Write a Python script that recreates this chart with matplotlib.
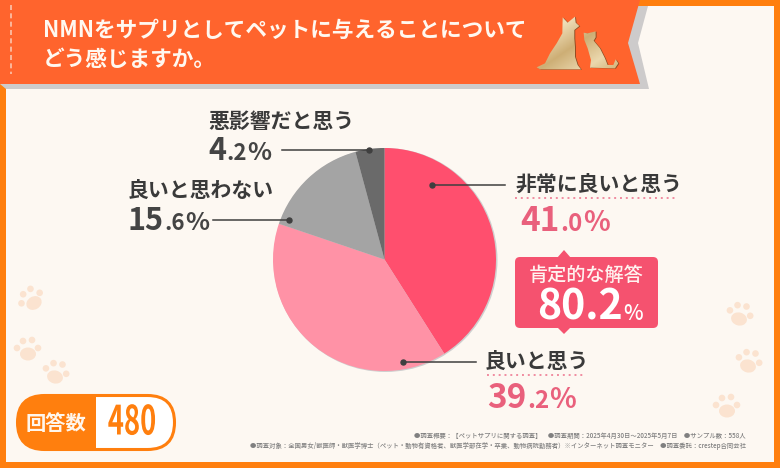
#!/usr/bin/env python3
"""NMN survey pie chart: pet owners' view of NMN supplements."""
import matplotlib
matplotlib.use("Agg")
import matplotlib.pyplot as plt
import numpy as np
from matplotlib.colors import LinearSegmentedColormap
from matplotlib.patches import Circle, Ellipse, FancyBboxPatch, Polygon, Rectangle
from matplotlib.patheffects import AbstractPathEffect
from matplotlib.transforms import Affine2D

plt.rcParams['font.family'] = ['Noto Sans CJK JP', 'DejaVu Sans']

W, H = 780, 468

# Data
labels = ["非常に良いと思う", "良いと思う", "良いと思わない", "悪影響だと思う"]
values = [41.0, 39.2, 15.6, 4.2]
slice_colors = ['#FF4F6E', '#FF92A6', '#A4A4A4', '#6A6A6A']

title_lines = ["NMNをサプリとしてペットに与えることについて", "どう感じますか。"]
positive_label = "肯定的な解答"
positive_value = 80.2
answer_label = "回答数"
answer_count = "480"
notes = [
    "●調査概要：【ペットサプリに関する調査】　●調査期間：2025年4月30日～2025年5月7日　●サンプル数：558人",
    "●調査対象：全国男女/獣医師・獣医学博士（ペット・動物有資格者、獣医学部在学・卒業、動物病院勤務者）※インターネット調査モニター　●調査委託：crestep合同会社",
]

ORANGE = '#FF7F0E'
HEADER = '#FF642D'
CREAM = '#FDF8F2'
PINK = '#F5526F'
PINK_TEXT = '#E9607C'
DARK = '#3A3A3A'
PAW = '#FBE3D0'

fig = plt.figure(figsize=(W / 100, H / 100), dpi=100, facecolor=CREAM)
ax = fig.add_axes([0, 0, 1, 1])


class Squeeze(AbstractPathEffect):
    """Condense text horizontally around a pixel x position."""

    def __init__(self, cx, factor):
        super().__init__()
        self.cx = cx
        self.factor = factor

    def draw_path(self, renderer, gc, tpath, affine, rgbFace=None):
        squeeze = Affine2D().translate(-self.cx, 0).scale(self.factor, 1).translate(self.cx, 0)
        renderer.draw_path(gc, tpath, affine + squeeze, rgbFace)


def flip(points):
    """Image pixels (y down) to axes coordinates (y up)."""
    return [(x, H - y) for x, y in points]


def txt(x, y, s, size, color=DARK, ha='left', weight='bold', **kw):
    return ax.text(x, H - y, s, fontsize=size, color=color, ha=ha, va='center',
                   fontweight=weight, **kw)


def pct(x, y, value, big, small, sign, color):
    """Percentage in three sizes like the original: 41 / .0 / %, same baseline."""
    whole, rest = f"{value:.1f}".split('.')
    renderer = fig.canvas.get_renderer()
    t = ax.text(x, H - y, whole, fontsize=big, color=color, fontweight='bold',
                ha='left', va='baseline', zorder=6)
    end = t.get_window_extent(renderer).x1
    t = ax.text(end + 0.5, H - y, '.' + rest, fontsize=small, color=color,
                fontweight='bold', ha='left', va='baseline', zorder=6)
    end = t.get_window_extent(renderer).x1
    ax.text(end + 0.5, H - y, '%', fontsize=sign, color=color,
            fontweight='bold', ha='left', va='baseline', zorder=6)


def leader(x0, x1, y):
    ax.plot([x0, x1], [H - y, H - y], color='#3f3f3f', lw=1.1, zorder=5)
    ax.plot([x1], [H - y], 'o', color='#3f3f3f', ms=3.6, zorder=5)


def dotted(x0, x1, y):
    ax.plot([x0, x1], [H - y, H - y], color='#F08CA0', lw=1.4,
            ls=(0, (1, 2)), zorder=5)


def paw(x, y, angle=0.0):
    a = np.deg2rad(angle)
    for dx, dy in [(-11, -6), (-5, -13), (4, -14), (10, -6)]:
        px = x + dx * np.cos(a) - dy * np.sin(a)
        py = y + dx * np.sin(a) + dy * np.cos(a)
        ax.add_patch(Circle((px, H - py), 3.3, color=PAW, lw=0, zorder=1))
    ax.add_patch(Ellipse((x, H - y), 16, 13, angle=-angle, color=PAW, lw=0, zorder=1))


# Pie
wedges, _ = ax.pie(values, colors=slice_colors, startangle=90, counterclock=False,
                   center=(384.5, H - 259.5), radius=111.5, frame=True,
                   wedgeprops=dict(lw=0, zorder=3))
ax.set_xlim(0, W)
ax.set_ylim(0, H)
ax.set_aspect('auto')
ax.axis('off')
ax.add_patch(Circle((385.5, H - 260), 112, color='#CFCFCF', lw=0, zorder=2))

# Frame
ax.add_patch(Rectangle((0, 0), W, H, fc=ORANGE, lw=0, zorder=0))
ax.add_patch(Rectangle((6, 6), 768, H - 12, fc=CREAM, lw=0, zorder=0.5))

# Header ribbon
ax.add_patch(Polygon(flip([(0, 6), (648, 6), (638, 43), (649, 89), (6, 89), (0, 84)]),
                     fc='#CDCBCB', lw=0, zorder=1))
ax.add_patch(Polygon(flip([(0, 0), (640, 0), (628, 43), (640, 84), (0, 84)]),
                     fc=HEADER, lw=0, zorder=1.1))
ax.plot([11, 11], [H - 5, H - 74], color='#FBC5AE', lw=1.2, ls=(0, (3, 2)), zorder=1.2)
txt(43, 30, title_lines[0], 15.6, color='#FFF8F0', zorder=2)
txt(43, 59, title_lines[1], 15.6, color='#FFF8F0', zorder=2)

# Dog and cat silhouette, outlines traced in a 3x crop at (525, 10)
gold = LinearSegmentedColormap.from_list('gold', ['#C9A667', '#F0DFBA', '#CDAE75', '#EBD8AE', '#C8A768'])
gradient = np.linspace(0, 1, 64).reshape(-1, 1) + np.linspace(0, 1, 64)[:, None].T
dog = [(35, 172), (60, 160), (75, 130), (95, 100), (112, 70), (113, 22), (128, 38), (150, 20),
       (152, 38), (163, 48), (148, 60), (148, 85), (150, 110), (150, 140), (158, 165),
       (168, 178), (130, 178), (95, 178), (45, 178)]
cat = [(176, 68), (188, 70), (212, 64), (212, 82), (206, 92), (225, 115), (240, 145), (248, 165),
       (265, 165), (272, 148), (280, 160), (270, 175), (195, 173), (198, 150), (188, 115), (178, 90)]
for shape in (dog, cat):
    pts = [(525 + x / 3, 10 + y / 3) for x, y in shape]
    ax.add_patch(Polygon(flip([(x + 0.9, y + 0.3) for x, y in pts]), fc='#8A4A22', lw=0, zorder=1.9))
    patch = Polygon(flip(pts), fc='none', lw=0, zorder=2)
    ax.add_patch(patch)
    im = ax.imshow(gradient, cmap=gold, extent=(530, 622, H - 75, H - 14), aspect='auto', zorder=2)
    im.set_clip_path(patch)
ax.set_xlim(0, W)
ax.set_ylim(0, H)

# Paw prints
for x, y, a in [(34, 303, -30), (28, 354, 0), (55, 377, 15),
                (739, 319, 15), (748, 366, 15), (727, 411, 0)]:
    paw(x, y, a)

# Labels around the pie
txt(208, 121, labels[3], 15, zorder=6)
pct(208, 160, values[3], 22, 16, 18, '#444444')
leader(282, 369, 150)

txt(128, 190, labels[2], 15, zorder=6)
pct(128, 230.5, values[2], 22, 16, 18, '#444444')
leader(213, 289, 220)

txt(515, 184, labels[0], 15, zorder=6)
dotted(515, 678, 197.5)
pct(520, 231, values[0], 24, 17.5, 20, PINK_TEXT)
leader(505, 432, 185)

txt(485, 361, labels[1], 15, zorder=6)
dotted(487, 586, 375)
pct(487, 408, values[1], 24, 17.5, 20, PINK_TEXT)
leader(476, 403, 362)

# Positive answers badge
ax.add_patch(FancyBboxPatch((518, H - 325), 137, 65, boxstyle='round,pad=3,rounding_size=5',
                            fc=PINK, lw=0, zorder=3))
ax.add_patch(Polygon(flip([(557, 258), (564, 250), (571, 258)]), fc=PINK, lw=0, zorder=3))
ax.add_patch(Polygon(flip([(557, 327), (564, 334), (571, 327)]), fc=PINK, lw=0, zorder=3))
txt(586, 275, positive_label, 13.8, color='#FFF3F0', ha='center', weight='medium', zorder=6)
big = ax.text(537, H - 320, f"{positive_value:.1f}", fontsize=29.5, color='white',
              fontweight='bold', ha='left', va='baseline', zorder=6)
end = big.get_window_extent(fig.canvas.get_renderer()).x1
ax.text(end + 1, H - 320, '%', fontsize=15, color='white', fontweight='medium',
        ha='left', va='baseline', zorder=6)

# Answer count pill
pill = FancyBboxPatch((17.5, H - 449.5), 157, 54, boxstyle='round,pad=0,rounding_size=27',
                      fc='white', ec=ORANGE, lw=2.2, zorder=3)
ax.add_patch(pill)
left = Rectangle((16, H - 451), 80, 57, fc=ORANGE, lw=0, zorder=3.5)
ax.add_patch(left)
left.set_clip_path(pill)
txt(56, 423, answer_label, 14.6, color='#FFF6EC', ha='center', zorder=6)
ax.text(132, H - 423, answer_count, fontsize=29, color=ORANGE, ha='center', va='center',
        fontweight='bold', zorder=6, path_effects=[Squeeze(132, 0.68)])

# Footnotes
txt(746, 436, notes[0], 4.55, color='#808080', ha='right', weight='medium', zorder=6)
txt(746, 446, notes[1], 4.55, color='#808080', ha='right', weight='medium', zorder=6)

plt.savefig("out.png", dpi=100, facecolor=CREAM)
print("Saved: out.png")
